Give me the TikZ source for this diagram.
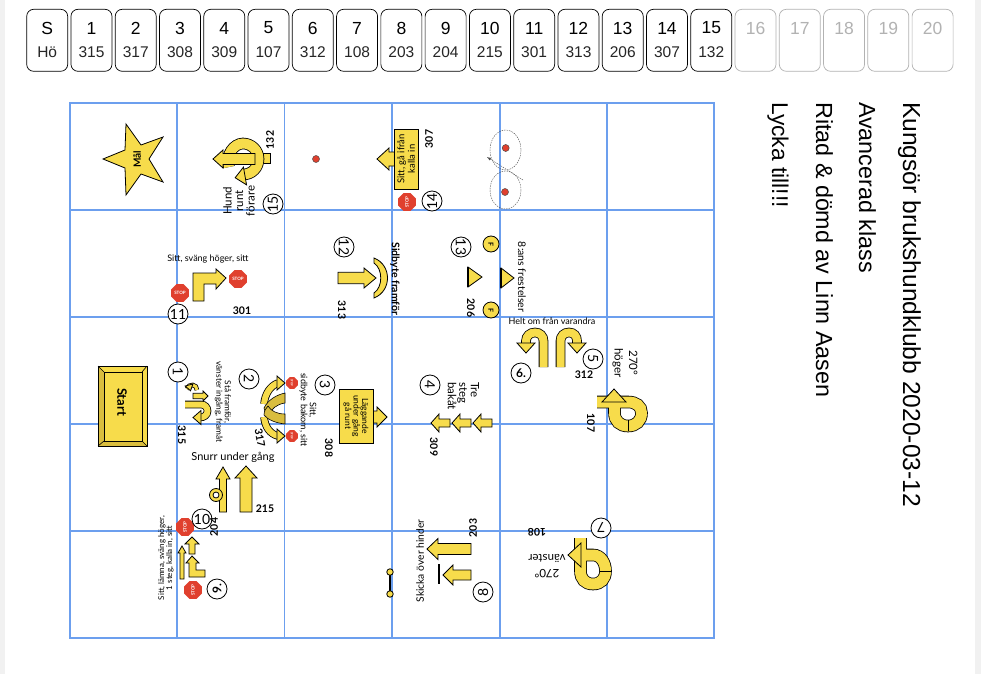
\documentclass[tikz,border=0pt]{standalone}
\usepackage{fontspec}
\setmainfont{Liberation Sans}
\newfontfamily\signfont{Lato}
\usetikzlibrary{shapes.geometric}
\definecolor{markyellow}{HTML}{F7DC4B}
\definecolor{darkyellow}{HTML}{D9BD3E}
\definecolor{stopred}{HTML}{E0402E}
\definecolor{gridblue}{HTML}{6C9FEE}
\definecolor{pagegrey}{HTML}{F1F1F1}
\newcommand{\sz}[1]{\fontsize{#1}{#1}\selectfont}
\tikzset{
  yshape/.style   = {draw=black, fill=markyellow, line width=.8pt},
  dshape/.style   = {draw=black, fill=darkyellow, line width=.6pt},
  band/.style     = {draw=black, line width=.8pt, double=markyellow, double distance=#1},
  gridline/.style = {draw=gridblue, line width=1.8pt},
  cell/.style     = {rectangle, rounded corners=7pt, draw=black, line width=.7pt,
                     minimum width=41pt, minimum height=62pt},
  deadcell/.style = {cell, draw=black!30},
  sign/.style     = {font=\signfont\sz{9}, inner sep=0pt, align=center},
  score/.style    = {font=\signfont\bfseries\sz{10.5}, inner sep=0pt},
  rnd/.style      = {circle, draw=black, fill=white, line width=.8pt, minimum size=20pt,
                     inner sep=0pt, font=\signfont\sz{14}},
  stopsign/.style = {regular polygon, regular polygon sides=8, fill=stopred, text=white,
                     minimum size=19pt, inner sep=0pt, font=\signfont\bfseries\sz{4.5}},
  smallstop/.style = {stopsign, minimum size=12.5pt, font=\signfont\bfseries\sz{2.8}},
  ftag/.style     = {circle, draw=black, fill=markyellow, line width=.8pt, minimum size=16pt,
                     inner sep=0pt, font=\signfont\bfseries\sz{7}},
  dot/.style      = {circle, draw=black!70, fill=stopred, line width=.5pt, minimum size=7pt, inner sep=0pt},
  head/.style     = {font=\sz{23.3}, inner sep=0pt, rotate=-90, anchor=base west}
}
% tail point, angle, length, half shaft, half head, head length
\newcommand{\blockarrow}[6]{\draw[yshape, shift={(#1)}, rotate=#2]
  (0,-#4) -- ({#3-#6},-#4) -- ({#3-#6},-#5) -- (#3,0) -- ({#3-#6},#5) -- ({#3-#6},#4) -- (0,#4) -- cycle;}
\begin{document}
\begin{tikzpicture}[x=1pt, y=-1pt]
  \useasboundingbox (0,0) rectangle (981,674);
  \fill[pagegrey] (0,0) rectangle (981,674);
  \fill[white] (5,0) rectangle (975,674);

  % score bar
  \foreach \up/\low [count=\n from 0] in {S/Hö,1/315,2/317,3/308,4/309,5/107,6/312,7/108,8/203,9/204,
      10/215,11/301,12/313,13/206,14/307,15/132} {
    \pgfmathsetmacro{\cx}{47.2+44.27*\n}
    \node[cell] (cell\n) at (\cx,40.3) {};
    \node[inner sep=0pt, font=\sz{17.5}] (top\n) at (\cx,28) {\up};
    \node[inner sep=0pt, font=\sz{15.5}, black!85] (bot\n) at (\cx,52.5) {\low};
  }
  \foreach \up [count=\n from 16] in {16,17,18,19,20} {
    \pgfmathsetmacro{\cx}{47.2+44.27*\n}
    \node[deadcell] (cell\n) at (\cx,40.3) {};
    \node[inner sep=0pt, font=\sz{17.5}, black!30] (top\n) at (\cx,28) {\up};
  }

  % field
  \foreach \x in {177,284.5,392,500,607} \draw[gridline] (\x,103) -- (\x,638);
  \foreach \y in {210,317,424,531} \draw[gridline] (70,\y) -- (714,\y);
  \draw[gridblue, line width=2.8pt] (70,103) rectangle (714,638);

  % right side text
  \node[head, font=\sz{24.6}] (title) at (903,102) {Kungsör brukshundklubb 2020-03-12};
  \node[head] (klass) at (859,102) {Avancerad klass};
  \node[head] (judge) at (816,102) {Ritad \& dömd av Linn Aasen};
  \node[head, font=\sz{22.8}] (luck)  at (772,102) {Lycka till!!!};

  % goal
  \draw[yshape] (103,159) -- (125,150) -- (126,124) -- (141,145) -- (163,137) -- (149,159)
    -- (163,182) -- (141,174) -- (126,195) -- (125,168) -- cycle;
  \node[sign, rotate=90, font=\signfont\bfseries\sz{10}] (goal) at (137,159) {Mål};

  % start
  \draw[yshape] (98,366) rectangle (147,446);
  \fill[darkyellow] (98,366) -- (104,372) -- (104,441) -- (142,441) -- (147,446) -- (98,446) -- cycle;
  \draw[black, line width=.6pt] (98,366) -- (104,372) (147,366) -- (142,372)
    (98,446) -- (104,441) (147,446) -- (142,441);
  \draw[black, line width=.6pt] (104,372) rectangle (142,441);
  \draw[black, line width=.9pt] (98,366) rectangle (147,446);
  \node[sign, rotate=-90, font=\signfont\bfseries\sz{13}] (start) at (122,402) {Start};

  % 1
  \node[rnd, rotate=-90] (r1) at (178,372) {1};
  \draw[band=3] (197,390) .. controls (197,384) and (189,383) .. (187,389);
  \blockarrow{189,385}{-75}{6}{0}{4}{6}
  \blockarrow{193,396}{0}{15}{2.7}{5}{5}
  \draw[band=6] (185,404.5) -- (201,404.5) .. controls (205,404.5) and (207.5,407.5) .. (207.5,411)
    .. controls (207.5,415) and (204,417.5) .. (200,417.5);
  \blockarrow{201,417.5}{180}{8}{0}{7}{8}
  \node[sign, rotate=-90, font=\signfont\sz{8.3}] (t1) at (223,402) {Stå framför,\\vänster ingång, framåt};
  \node[score, rotate=-90] (n1) at (182,435) {315};

  % 2
  \node[rnd, rotate=-90] (r2) at (249,379) {2};
  \draw[band=6] (264,404) .. controls (265,394) and (270,386) .. (278,383);
  \blockarrow{277,383}{0}{8}{0}{7}{8}
  \draw[band=6] (264,417) .. controls (265,427) and (270,434) .. (278,436);
  \blockarrow{277,436}{0}{8}{0}{7}{8}
  \draw[dshape] (285,393) .. controls (276,395) and (268,400) .. (264,408)
    .. controls (264,411) and (266,414) .. (268,416) .. controls (271,409) and (277,404) .. (285,403) -- cycle;
  \draw[dshape] (285,424) .. controls (276,423) and (268,420) .. (264,415)
    .. controls (264,411) and (266,408) .. (268,406) .. controls (271,411) and (277,414) .. (285,414) -- cycle;
  \node[smallstop, rotate=-90] (st2a) at (292,383) {STOP};
  \node[smallstop, rotate=-90] (st2b) at (292,436) {STOP};
  \node[score, rotate=-80] (n2) at (260,438) {317};

  % 3
  \node[rnd, rotate=-90] (r3) at (325,385) {3};
  \node[sign, rotate=-90, font=\signfont\sz{9}] (t3) at (308,410) {Sitt,\\sidbyte bakom, sitt};
  \blockarrow{370,417}{0}{17}{6}{10}{10}
  \node[yshape, rectangle, draw=black, minimum width=54pt, minimum height=34pt, inner sep=0pt,
    rotate=-90, font=\signfont\sz{8.5}, align=center] (t3b) at (356,416) {Läggande\\under gång\\gå runt};
  \node[score, rotate=-90] (n3) at (329,448) {308};

  % 4
  \node[rnd, rotate=-90] (r4) at (430,385) {4};
  \node[sign, rotate=-90, align=left, anchor=west, font=\signfont\sz{11.5}] (t4) at (463.5,382) {Tre\\steg\\bakåt};
  \blockarrow{492,423}{180}{19}{4}{9}{8}
  \blockarrow{471,423}{180}{19}{4}{9}{8}
  \blockarrow{450,423}{180}{19}{4}{9}{8}
  \node[score, rotate=-90] (n4) at (434,447) {309};

  % 5
  \node[rnd, rotate=-90] (r5) at (593,359) {5};
  \draw[band=8] (560.5,367) -- (560.5,341) .. controls (560.5,336) and (564,332.5) .. (569,332.5)
    .. controls (574,332.5) and (577,336) .. (577,341) -- (577,344);
  \blockarrow{577,343}{-90}{10}{0}{9}{10}
  \node[score] (n5) at (584,375) {312};
  \node[sign, rotate=-90, font=\signfont\sz{11.5}] (t5) at (625,363) {270°\\[3pt]höger};
  \draw[band=11] (597,402) -- (628,402) .. controls (636,402) and (641.5,406) .. (641.5,413)
    .. controls (641.5,421) and (636,426) .. (628,426) .. controls (620,426) and (614.5,421) .. (614.5,413) -- (614.5,401);
  \draw[black, line width=.6pt] (628,420) -- (628,431);
  \blockarrow{614,402}{90}{13}{0}{12}{13}
  \node[score, rotate=-90] (n5b) at (591,423) {107};

  % 6
  \node[rnd, font=\signfont\bfseries\sz{12}] (r6) at (521,373) {6.};
  \draw[band=8] (543.5,367) -- (543.5,341) .. controls (543.5,336) and (540,332.5) .. (535,332.5)
    .. controls (530,332.5) and (526,336) .. (526,341) -- (526,344);
  \blockarrow{526,343}{-90}{10}{0}{9}{10}
  \node[sign] (t6) at (552,321) {Helt om från varandra};

  % 7
  \node[rnd, rotate=180] (r7) at (601,528) {7};
  \draw[band=11] (580.5,538) -- (580.5,571) .. controls (580.5,579) and (585,584) .. (593,584)
    .. controls (601,584) and (605.5,579) .. (605.5,571) .. controls (605.5,563) and (601,555) .. (593,555) -- (580,555);
  \draw[black, line width=.6pt] (600,571) -- (611,571);
  \blockarrow{581,555}{180}{13}{0}{12}{13}
  \node[score, rotate=180] (n7) at (537,532) {108};
  \node[sign, rotate=180, font=\signfont\sz{11.5}] (t7) at (547,566) {270°\\[3pt]vänster};

  % 8
  \node[rnd, rotate=90] (r8) at (483,592) {8};
  \blockarrow{471,549}{180}{44}{5.5}{10.5}{11}
  \blockarrow{471,575}{180}{28}{5}{10}{10}
  \draw[black, line width=1.1pt] (439,564) -- (439,584);
  \node[sign, rotate=90, font=\signfont\sz{10.3}] (t8) at (420,561) {Skicka över hinder};
  \node[score, rotate=90] (n8) at (473,528) {203};
  \draw[black, line width=1.8pt] (390,572) -- (390,594);
  \node[ftag, minimum size=6.5pt] (post1) at (390,572) {};
  \node[ftag, minimum size=6.5pt] (post2) at (390,594) {};

  % 9
  \node[rnd, rotate=90, font=\signfont\bfseries\sz{12}] (r9) at (217,589) {9.};
  \node[stopsign, rotate=90] (st9a) at (193,590) {STOP};
  \blockarrow{182,579}{90}{33}{2}{4}{7}
  \draw[yshape] (186,563) -- (192,556) -- (199,563) -- (196,563) -- (196,570) -- (205,570)
    -- (205,577) -- (189,577) -- (189,563) -- cycle;
  \blockarrow{192,554}{90}{17}{3}{7}{7}
  \node[stopsign, rotate=90] (st9b) at (185,527) {STOP};
  \node[sign, rotate=90, font=\signfont\sz{8}] (t9) at (166,558) {Sitt, lämna, sväng höger,\\1 steg, kalla in, sitt};

  % 10
  \blockarrow{223,512}{90}{45}{3.5}{7}{12}
  \blockarrow{246,512}{90}{46}{6}{11}{12}
  \node[circle, draw=black, fill=markyellow, line width=.8pt, minimum size=13pt, inner sep=0pt] (ring) at (216,495) {};
  \node[circle, draw=black, fill=white, line width=.8pt, minimum size=6pt, inner sep=0pt] (hole) at (216,495) {};
  \node[sign, font=\signfont\sz{11}] (t10) at (233,457) {Snurr under gång};
  \node[score] (n10) at (265,509) {215};
  \node[rnd] (r10) at (202,519) {10};
  \node[score, rotate=90] (n9) at (214,527) {204};

  % 11
  \draw[yshape] (193,301) -- (193,273) -- (216,273) -- (216,269) -- (226,278) -- (216,289)
    -- (216,284) -- (204,284) -- (204,301) -- cycle;
  \node[stopsign] (st11a) at (238,279) {STOP};
  \node[stopsign] (st11b) at (180,293) {STOP};
  \node[rnd] (r11) at (178,314) {11};
  \node[sign] (t11) at (208,259) {Sitt, sväng höger, sitt};
  \node[score] (n11) at (242,311) {301};

  % 12
  \node[rnd, rotate=-90] (r12) at (344,247) {12};
  \blockarrow{338,278}{0}{38}{5.7}{10}{12}
  \draw[yshape] (374,258) .. controls (392,265) and (392,291) .. (374,298) -- (374,293)
    .. controls (383,287) and (383,269) .. (374,263) -- cycle;
  \node[sign, rotate=-90, font=\signfont\bfseries\sz{10.5}] (t12) at (395,279) {Sidbyte framför};
  \node[score, rotate=-90] (n12) at (342,310) {313};

  % 13
  \node[rnd, rotate=-90] (r13) at (461,247) {13};
  \node[ftag, rotate=-90] (f13a) at (491,244) {F};
  \node[ftag, rotate=-90] (f13b) at (491,310) {F};
  \draw[yshape] (468,267) -- (482,277) -- (468,287) -- cycle;
  \draw[black, line width=1.2pt] (468,267) -- (468,287);
  \draw[yshape] (501,268) -- (514,278) -- (501,288) -- cycle;
  \draw[black, line width=1.2pt] (501,268) -- (501,288);
  \node[sign, rotate=-90, font=\signfont\sz{10.5}] (t13) at (522,277) {8:ans frestelser};
  \node[score, rotate=-90] (n13) at (471,308) {206};
  \coordinate (crossa) at (487,157);
  \coordinate (crossb) at (523,180);
  \draw[black!70, line width=.4pt, dash pattern=on 1.5pt off 1pt] (505.5,150) circle [x radius=15.5, y radius=20];
  \draw[black!70, line width=.4pt, dash pattern=on 1.5pt off 1pt] (505.5,190) circle [x radius=15.5, y radius=19];
  \draw[black!70, line width=.4pt, dash pattern=on 1.5pt off 1pt, -latex] (crossb) -- (crossa);
  \node[dot] (d13a) at (505.7,148) {};
  \node[dot] (d13b) at (505,192) {};

  % 14
  \blockarrow{396,159}{180}{19}{7}{11}{12}
  \node[yshape, rectangle, minimum width=60pt, minimum height=24pt, inner sep=0pt,
    rotate=90, font=\signfont\sz{9.5}, align=center] (t14) at (406,159) {Sitt, gå ifrån\\[1pt]kalla in};
  \node[stopsign, rotate=90] (st14) at (407,202) {STOP};
  \node[rnd, rotate=90] (r14) at (432,201) {14};
  \node[score, rotate=90] (n14) at (429,139) {307};
  \node[dot] (d14) at (316,159) {};

  % 15
  \draw[yshape] (262,153) rectangle (270,163);
  \draw[band=10] (229,167) .. controls (225,155) and (234,143.5) .. (243,143.5)
    .. controls (251.5,143.5) and (258.5,150.5) .. (258.5,159)
    .. controls (258.5,167.5) and (252,174.5) .. (243,174.5);
  \blockarrow{245,176}{190}{10}{0}{9}{10}
  \blockarrow{255,159}{180}{42}{5.5}{9}{10}
  \node[rnd, rotate=90] (r15) at (273,204) {15};
  \node[sign, rotate=90, font=\signfont\sz{11.5}] (t15) at (239,201) {Hund\\runt\\förare};
  \node[score, rotate=90] (n15) at (270,140) {132};
\end{tikzpicture}
\end{document}
